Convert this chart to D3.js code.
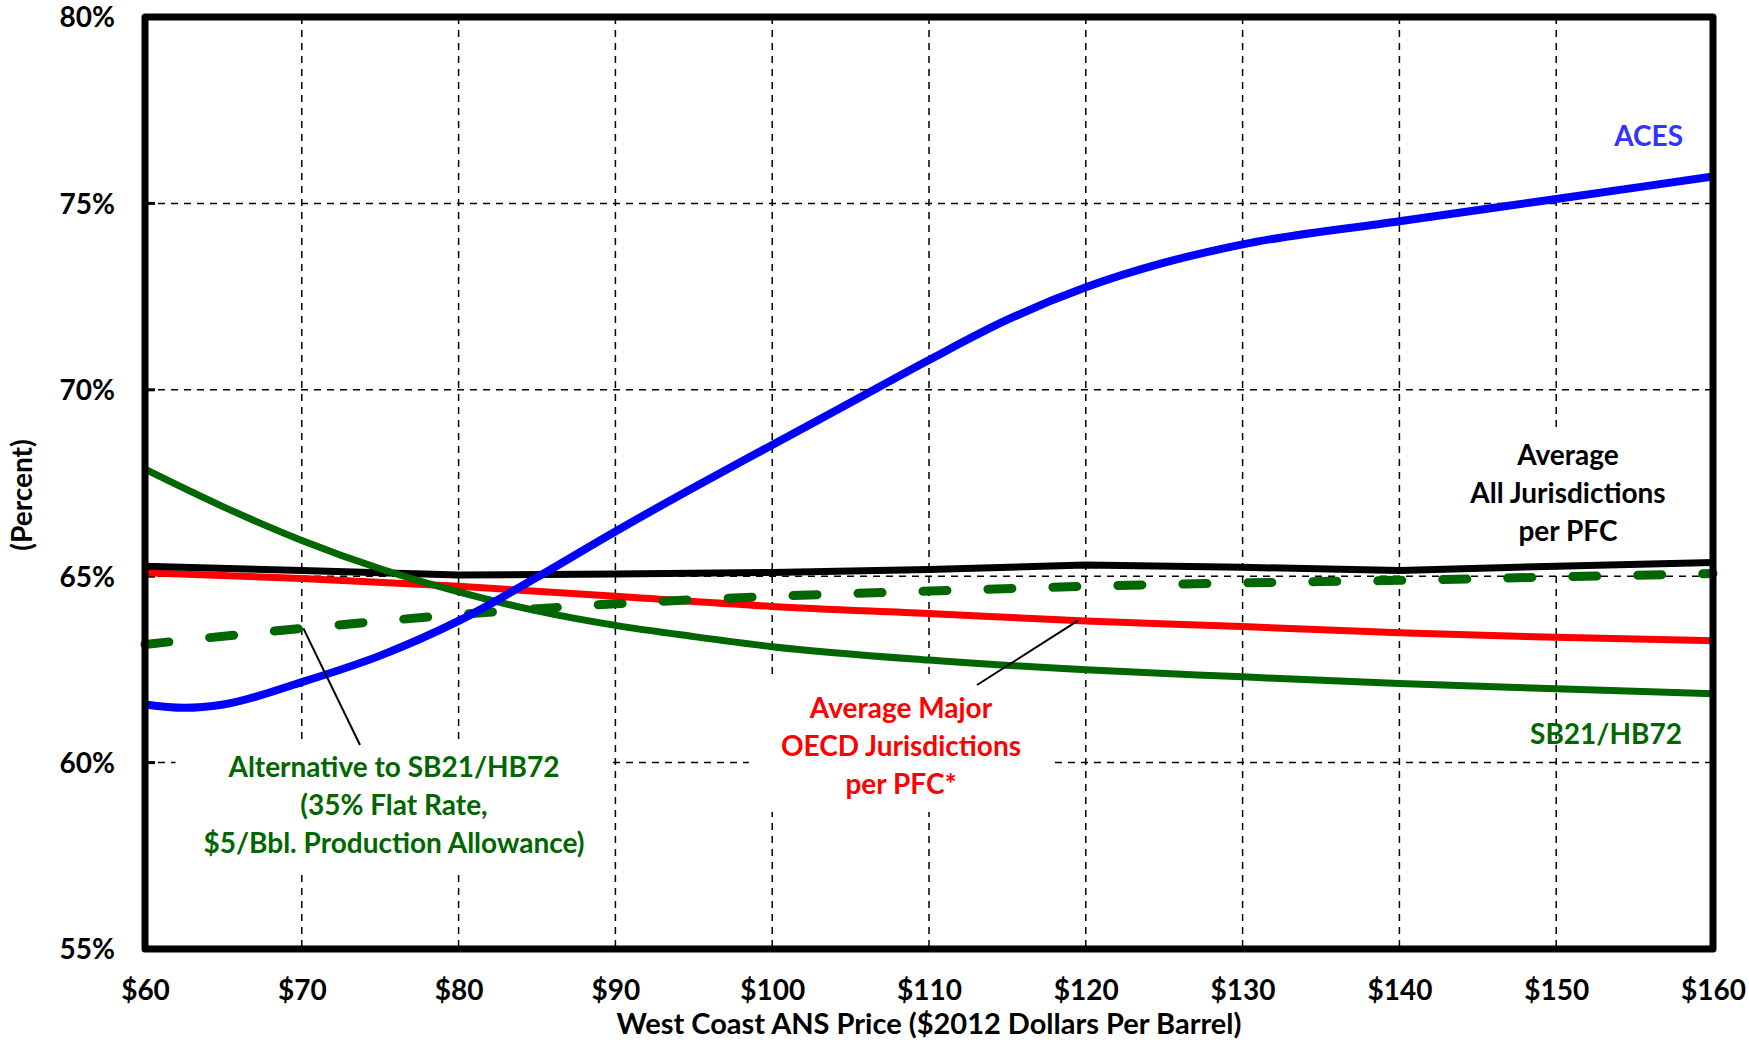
<!DOCTYPE html>
<html><head><meta charset="utf-8">
<script src="https://cdn.jsdelivr.net/npm/d3@7"></script>
<style>
body{margin:0;background:#fff;}
text{font-family:Lato,"Open Sans",sans-serif;font-weight:700;}
</style></head>
<body><svg id="chart" width="1749" height="1044"></svg>
<script>
// ---- data ----
const xTicks = [60,70,80,90,100,110,120,130,140,150,160];
const yTicks = [55,60,65,70,75,80];
const acesX = [60,62.5,65,70,75,80,85,90,95,100,105,110,115,120,125,130,140,150,160];
const acesY = [61.56,61.47,61.56,62.16,62.87,63.8,64.97,66.2,67.38,68.52,69.66,70.8,71.88,72.75,73.41,73.9,74.52,75.12,75.72];
const avgAllX = [60,70,80,90,100,110,120,130,140,150,160];
const avgAllY = [65.27,65.15,65.03,65.06,65.1,65.18,65.3,65.24,65.15,65.27,65.37];
const oecdX = [60,70,80,90,100,110,120,130,140,150,160];
const oecdY = [65.09,64.94,64.73,64.46,64.19,64.0,63.8,63.65,63.48,63.36,63.27];
const sb21X = [60,65,70,75,80,85,90,95,100,110,120,130,140,150,160];
const sb21Y = [67.87,66.86,65.96,65.2,64.58,64.07,63.68,63.38,63.11,62.75,62.49,62.3,62.12,61.98,61.85];
const altX = [60,70,80,90,100,110,120,130,140,150,160];
const altY = [63.17,63.6,63.97,64.26,64.46,64.6,64.73,64.82,64.89,64.98,65.07];

const svg = d3.select("#chart");
const L=145, R=1713, T=17, B=949;
const x = d3.scaleLinear().domain([60,160]).range([L,R]);
const y = d3.scaleLinear().domain([55,80]).range([B,T]);

// gridlines
const g = svg.append("g");
g.selectAll(".vg").data(xTicks.slice(1,-1)).enter().append("line")
 .attr("x1",d=>x(d)).attr("x2",d=>x(d)).attr("y1",T).attr("y2",B)
 .attr("stroke","#000").attr("stroke-width",1.5).attr("stroke-dasharray","7,6");
g.selectAll(".hg").data(yTicks.slice(1,-1)).enter().append("line")
 .attr("y1",d=>y(d)).attr("y2",d=>y(d)).attr("x1",L).attr("x2",R)
 .attr("stroke","#000").attr("stroke-width",1.5).attr("stroke-dasharray","7,6");
// inner y ticks
g.selectAll(".yt").data(yTicks.slice(1,-1)).enter().append("line")
 .attr("y1",d=>y(d)).attr("y2",d=>y(d)).attr("x1",L).attr("x2",L+10)
 .attr("stroke","#000").attr("stroke-width",3);

// label background boxes (white, hide gridlines)
const boxes = svg.append("g");

function series(xs,ys,color,w,curve,dash){
  const pts = xs.map((d,i)=>[d,ys[i]]);
  const line = d3.line().x(d=>x(d[0])).y(d=>y(d[1])).curve(curve);
  const p = svg.append("path").attr("d",line(pts)).attr("fill","none")
   .attr("stroke",color).attr("stroke-width",w).attr("stroke-linejoin","round");
  if(dash) p.attr("stroke-dasharray",dash).attr("stroke-linecap","round");
  return p;
}
series(oecdX,oecdY,"#ff0000",7,d3.curveMonotoneX);
series(avgAllX,avgAllY,"#000000",7,d3.curveLinear);
series(sb21X,sb21Y,"#006600",7,d3.curveMonotoneX);
series(altX,altY,"#006600",9,d3.curveMonotoneX,"24,41");
series(acesX,acesY,"#0000ff",8,d3.curveMonotoneX);

// frame
svg.append("rect").attr("x",L).attr("y",T).attr("width",R-L).attr("height",B-T)
 .attr("fill","none").attr("stroke","#000").attr("stroke-width",7).attr("stroke-linejoin","round");

// axes labels
const xAxis = d3.axisBottom(x).tickValues(xTicks).tickFormat(d=>"$"+d).tickSize(0);
const xa = svg.append("g").attr("transform",`translate(0,${B})`).call(xAxis);
xa.select(".domain").remove();
xa.selectAll("text").attr("dy",0).attr("y",51).attr("font-size",28).attr("fill","#000")
 .style("font-family","Lato,sans-serif").style("font-weight",700);
const yAxis = d3.axisLeft(y).tickValues(yTicks).tickFormat(d=>d+"%").tickSize(0);
const ya = svg.append("g").attr("transform",`translate(${L},0)`).call(yAxis);
ya.select(".domain").remove();
ya.selectAll("text").attr("x",-30).attr("dy","0.35em").attr("font-size",28).attr("fill","#000")
 .style("font-family","Lato,sans-serif").style("font-weight",700);

svg.append("text").attr("x",(L+R)/2).attr("y",1034).attr("text-anchor","middle")
 .attr("font-size",29).text("West Coast ANS Price ($2012 Dollars Per Barrel)");
svg.append("text").attr("transform","translate(32,495) rotate(-90)").attr("text-anchor","middle")
 .attr("font-size",28).text("(Percent)");

// annotations
function label(lines,cx,y0,color,anchor,box){
  const t = svg.append("text").attr("text-anchor",anchor||"middle").attr("font-size",28).attr("fill",color);
  lines.forEach((s,i)=>t.append("tspan").attr("x",cx).attr("y",y0+i*38).text(s));
  if(box){
    const bb = t.node().getBBox();
    boxes.append("rect").attr("x",bb.x-box[0]).attr("y",bb.y-box[1])
     .attr("width",bb.width+2*box[0]).attr("height",bb.height+2*box[1]).attr("fill","#fff");
  }
  return t;
}
label(["ACES"],1683,146,"#3333ff","end");
label(["Average","All Jurisdictions","per PFC"],1568,465,"#000","middle",[28,10]);
label(["SB21/HB72"],1606,744,"#006600","middle");
label(["Average Major","OECD Jurisdictions","per PFC*"],901,718,"#ff0000","middle",[32,12]);
label(["Alternative to SB21/HB72","(35% Flat Rate,","$5/Bbl. Production Allowance)"],394,777,"#006600","middle",[28,10]);

// leader lines
svg.append("line").attr("x1",360).attr("y1",745).attr("x2",x(70.1)).attr("y2",y(63.6))
 .attr("stroke","#000").attr("stroke-width",2);
svg.append("line").attr("x1",977).attr("y1",685).attr("x2",x(119.5)).attr("y2",y(63.81))
 .attr("stroke","#000").attr("stroke-width",2);
</script></body></html>
